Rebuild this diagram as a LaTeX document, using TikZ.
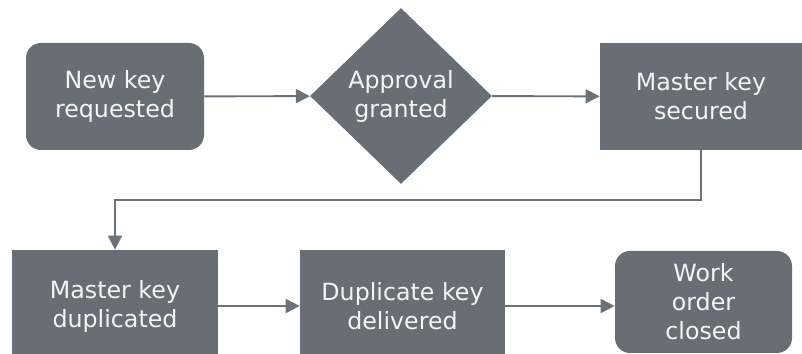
\documentclass[tikz,border=0pt]{standalone}
\usepackage{fontspec}
\setmainfont{DejaVu Sans}
\usepackage{tikz}
\usetikzlibrary{shapes.geometric}
\usetikzlibrary{arrows.meta}
\usetikzlibrary{positioning}

\definecolor{boxGray}{HTML}{676E75}
\definecolor{lineGray}{HTML}{6B7178}
\definecolor{textWhite}{HTML}{F4F4F4}

\begin{document}
\begin{tikzpicture}[
	boxStyle/.style={rectangle, fill=boxGray, text=textWhite, align=center, inner sep=0pt, minimum height=2.14cm, font=\fontsize{13.5}{16.5}\selectfont},
	roundStyle/.style={boxStyle, rounded corners=0.3cm},
	diamondStyle/.style={diamond, fill=boxGray, text=textWhite, align=center, inner sep=0pt, minimum width=3.64cm, minimum height=3.52cm, font=\fontsize{13.5}{16.5}\selectfont},
	arrowStyle/.style={draw=lineGray, line width=1.1pt, -{Triangle[length=0.28cm, width=0.28cm]}}]
			\useasboundingbox (0, 0) rectangle (16.04, -7.08);

			% Top row
			\node[roundStyle, minimum width=3.56cm] (requested) at (2.30, -1.93) {New key\\requested};
			\node[diamondStyle] (approval) at (8.02, -1.92) {Approval\\granted};
			\node[boxStyle, minimum width=4.04cm] (secured) at (14.02, -1.93) {Master key\\secured};

			% Bottom row
			\node[boxStyle, minimum width=4.12cm, minimum height=2.24cm] (duplicated) at (2.30, -6.12) {Master key\\duplicated};
			\node[boxStyle, minimum width=4.10cm, minimum height=2.24cm] (delivered) at (8.05, -6.12) {Duplicate key\\delivered};
			\node[roundStyle, minimum width=3.54cm, minimum height=2.04cm] (closed) at (14.07, -6.04) {Work\\order\\closed};

			\draw[arrowStyle] (requested) -- (approval);
			\draw[arrowStyle] (approval) -- (secured);
			\draw[arrowStyle] (secured.south) -- ++(0, -1.0) -| (duplicated.north);
			\draw[arrowStyle] (duplicated) -- (delivered);
			\draw[arrowStyle] (delivered.east) -- (closed.west |- delivered.east);

		\end{tikzpicture}
\end{document}
